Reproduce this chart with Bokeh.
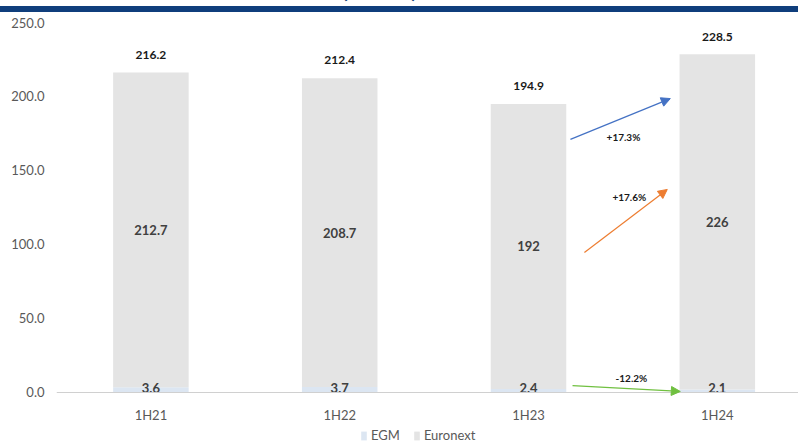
from bokeh.plotting import figure
from bokeh.models import (ColumnDataSource, Range1d, FixedTicker, Arrow, NormalHead,
                          Legend, LegendItem, Div, NumeralTickFormatter, Label, Span)
from bokeh.layouts import column
from bokeh.embed import file_html
from bokeh.resources import INLINE
from bokeh.core.properties import value

# ---- data ----
periods = ["1H21", "1H22", "1H23", "1H24"]
egm = [3.6, 3.7, 2.4, 2.1]
euronext_labels = ["212.7", "208.7", "192", "226"]
totals = [216.2, 212.4, 194.9, 228.5]
growth_labels = ["+17.3%", "+17.6%", "-12.2%"]

FONT = "Lato"
x = list(range(len(periods)))
euronext_mid = [e + (t - e) / 2 for e, t in zip(egm, totals)]

src = ColumnDataSource(dict(
    x=x, egm=egm, tot=totals,
    tot_lbl=[f"{t:.1f}" for t in totals],
    egm_lbl=[f"{v:.1f}" for v in egm],
    mid=euronext_mid, mid_lbl=euronext_labels,
    tot_y=[t + 12 for t in totals],
    egm_y=[3.3 for _ in egm],
    cat=periods,
    cat_y=[-14.9 for _ in periods],
))

# frame extends below the zero line so the category labels and legend sit inside it
p = figure(frame_width=742, frame_height=421, output_backend="svg", toolbar_location=None,
           x_range=Range1d(-0.5, 3.43), y_range=Range1d(-34.46, 250),
           min_border_left=56, min_border_right=0, min_border_top=10, min_border_bottom=0,
           margin=0)
p.outline_line_color = None
p.grid.grid_line_color = None

r_egm = p.vbar(x="x", bottom=0, top="egm", width=0.4, source=src,
               fill_color="#dce6f2", line_color=None)
r_eur = p.vbar(x="x", bottom="egm", top="tot", width=0.4, source=src,
               fill_color="#e4e4e4", line_color=None)

# category baseline and labels
p.add_layout(Span(location=0, dimension="width", line_color="#d0d0d0", line_width=1))
p.text(x="x", y="cat_y", text="cat", source=src, text_align="center",
       text_baseline="middle", text_font=value(FONT), text_font_size="13px",
       text_color="#595959")

# value labels
p.text(x="x", y="tot_y", text="tot_lbl", source=src, text_align="center",
       text_baseline="middle", text_font=value(FONT), text_font_style="bold",
       text_font_size="12px", text_color="#1a1a1a")
p.text(x="x", y="mid", text="mid_lbl", source=src, text_align="center",
       text_baseline="middle", text_font=value(FONT), text_font_style="bold",
       text_font_size="13px", text_color="#404040")
p.text(x="x", y="egm_y", text="egm_lbl", source=src, text_align="center",
       text_baseline="middle", text_font=value(FONT), text_font_style="bold",
       text_font_size="13px", text_color="#404040")

# growth arrows (total, Euronext, EGM)
arrows = [
    ((2.222, 171.0), (2.751, 198.6), "#4472c4", growth_labels[0], (2.503, 172.3)),
    ((2.296, 94.6), (2.735, 137.2), "#ed7d31", growth_labels[1], (2.534, 131.8)),
    ((2.233, 4.7), (2.804, 0.7), "#70c040", growth_labels[2], (2.545, 10.1)),
]
for (x0, y0), (x1, y1), col, lbl, (lx, ly) in arrows:
    p.add_layout(Arrow(x_start=x0, y_start=y0, x_end=x1, y_end=y1, line_color=col,
                       line_width=1.2,
                       end=NormalHead(size=9, fill_color=col, line_color=col)))
    p.add_layout(Label(x=lx, y=ly, text=lbl, text_align="center", text_baseline="middle",
                       text_font=FONT, text_font_style="bold", text_font_size="10px",
                       text_color="#1a1a1a"))

# axes
p.xaxis.visible = False

p.yaxis.ticker = FixedTicker(ticks=[0, 50, 100, 150, 200, 250])
p.yaxis.formatter = NumeralTickFormatter(format="0.0")
p.yaxis.axis_line_color = None
p.yaxis.major_tick_line_color = None
p.yaxis.minor_tick_line_color = None
p.yaxis.major_label_text_font = FONT
p.yaxis.major_label_text_font_size = "13px"
p.yaxis.major_label_text_color = "#595959"
p.yaxis.major_label_standoff = 6

legend = Legend(items=[LegendItem(label="EGM", renderers=[r_egm]),
                       LegendItem(label="Euronext", renderers=[r_eur])],
                orientation="horizontal", location=(304, 0),
                label_text_font=FONT, label_text_font_size="13px",
                label_text_color="#595959", glyph_width=7, glyph_height=11,
                label_height=14, label_standoff=4, spacing=13, padding=0, margin=0,
                border_line_color=None, background_fill_alpha=0)
p.add_layout(legend, "center")

band = Div(width=798, height=12, margin=0, text=(
    '<div style="position:relative;width:798px;height:12px;overflow:hidden;">'
    '<div style="position:absolute;left:342px;top:-25px;font-family:Lato;font-weight:bold;'
    'font-size:21px;color:#0f3e7c;white-space:nowrap;">(EUR m)</div>'
    '<div style="position:absolute;left:0;top:6px;width:798px;height:6px;background:#0f3e7c;"></div>'
    '</div>'))

layout = column(band, p, spacing=0, margin=0)
open("out.html", "w").write(file_html(layout, INLINE))
